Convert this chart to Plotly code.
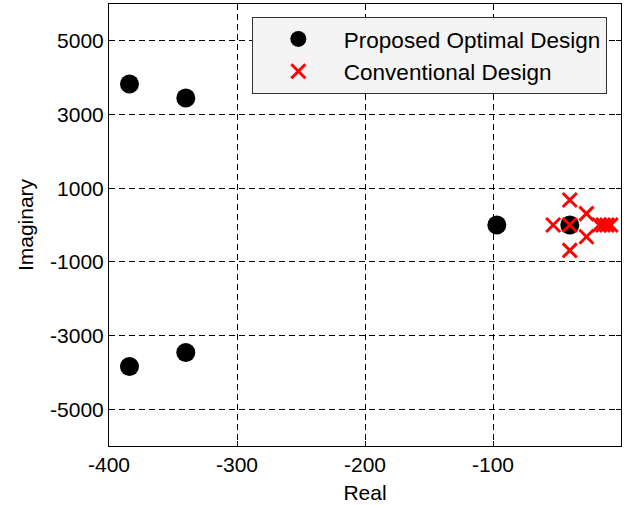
import plotly.graph_objects as go

# Pole locations (real part, imaginary part)
optimal_real = [-384, -340, -384, -340, -97, -40]
optimal_imag = [3830, 3450, -3840, -3460, 0, 0]

conventional_real = [-40, -40, -27, -27, -53, -40, -17, -14, -11, -8]
conventional_imag = [680, -690, 310, -320, 0, 0, 0, 0, 0, 0]

x_ticks = [-400, -300, -200, -100, 0]
y_ticks = [-5000, -3000, -1000, 1000, 3000, 5000]
x_tick_text = ["-400", "-300", "-200", "-100", "0"]
y_tick_text = ["-5000", "-3000", "-1000", "1000", "3000", "5000"]

FONT = "Arial, Liberation Sans, sans-serif"

fig = go.Figure()
fig.add_trace(go.Scatter(
    x=optimal_real, y=optimal_imag, mode="markers",
    name="Proposed Optimal Design",
    marker=dict(symbol="circle", size=19, color="black"),
))
fig.add_trace(go.Scatter(
    x=conventional_real, y=conventional_imag, mode="markers",
    name="Conventional Design",
    marker=dict(symbol="x-thin", size=14, color="red",
                line=dict(color="red", width=3)),
))

axis_common = dict(
    showline=True, linecolor="black", linewidth=1, mirror="ticks",
    ticks="inside", ticklen=5, tickcolor="black",
    showgrid=True, gridcolor="black", gridwidth=1, griddash="6px,4px",
    zeroline=False,
    tickfont=dict(family=FONT, size=21, color="black"),
)

fig.update_xaxes(
    range=[-400, 0], tickvals=x_ticks, ticktext=x_tick_text,
    title=dict(text="Real", font=dict(family=FONT, size=21, color="black"), standoff=10),
    **axis_common,
)
fig.update_yaxes(
    range=[-6000, 6000], tickvals=y_ticks, ticktext=y_tick_text,
    title=dict(text="Imaginary", font=dict(family=FONT, size=21, color="black"), standoff=10),
    **axis_common,
)

fig.update_layout(
    width=626, height=508,
    margin=dict(l=109, r=5, t=4, b=62),
    plot_bgcolor="white", paper_bgcolor="white",
    font=dict(family=FONT, size=21, color="black"),
    showlegend=True,
    legend=dict(
        x=0.279, y=0.971, xanchor="left", yanchor="top",
        bgcolor="#f4f4f4", bordercolor="#333333", borderwidth=1,
        font=dict(family=FONT, size=22.5, color="black"),
        itemwidth=81, tracegroupgap=0,
        entrywidth=274, entrywidthmode="pixels",
    ),
)

fig.write_html("out.html")
